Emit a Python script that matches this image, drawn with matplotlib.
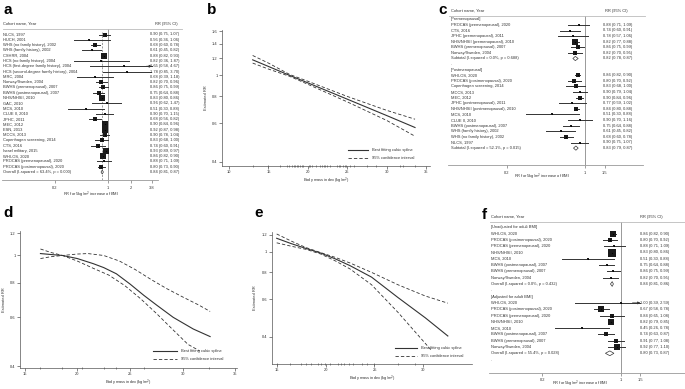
import numpy as np
import matplotlib.pyplot as plt
from matplotlib.patches import Polygon
from matplotlib.ticker import NullLocator

W, H = 685, 389
plt.rcParams['font.family'] = ['Liberation Sans', 'DejaVu Sans']

# ---------------- panel a: all cohorts ----------------
a_labels = ["NLCS, 1997", "HUCH, 2001", "WHS (no family history), 2002",
            "WHS (family history), 2002", "CSHRR, 2004", "HCS (no family history), 2004",
            "HCS (first-degree family history), 2004", "HCS (second-degree family history), 2004",
            "MRC, 2004", "Norway/Sweden, 2004", "BWHS (premenopausal), 2007",
            "BWHS (postmenopausal), 2007", "NHS/NHSII, 2010", "GAC, 2010", "MCS, 2010",
            "CLUE II, 2010", "JPHC, 2011", "MEC, 2012", "ESN, 2013", "MCCS, 2013",
            "Copenhagen screening, 2014", "CTS, 2016", "Israel military, 2015",
            "WHI-OS, 2020", "PROCAS (premenopausal), 2020", "PROCAS (postmenopausal), 2020",
            "Overall (I-squared = 63.4%, p = 0.000)"]
a_rr = [0.90, 0.56, 0.68, 0.61, 0.88, 0.82, 1.65, 1.78, 0.68, 0.82, 0.86, 0.75, 0.83, 0.96,
        0.51, 0.90, 0.68, 0.90, 0.92, 0.90, 0.83, 0.74, 0.93, 0.86, 0.88, 0.80, 0.84]
a_lo = [0.75, 0.36, 0.60, 0.45, 0.82, 0.36, 0.58, 0.85, 0.39, 0.70, 0.75, 0.64, 0.80, 0.62,
        0.30, 0.70, 0.56, 0.84, 0.87, 0.78, 0.68, 0.60, 0.89, 0.82, 0.71, 0.73, 0.81]
a_hi = [1.07, 1.06, 0.78, 0.82, 0.93, 1.87, 4.67, 3.70, 1.18, 0.96, 0.99, 0.88, 0.86, 1.47,
        0.88, 1.15, 0.82, 0.96, 0.98, 1.04, 1.00, 0.91, 0.97, 0.90, 1.09, 0.90, 0.87]
a_wt = [3.5, 0.8, 4.5, 2.3, 9.0, 0.3, 0.3, 0.4, 0.6, 3.5, 3.6, 3.5, 9.5, 0.7, 0.9, 1.5,
        3.3, 7.5, 8.5, 4.5, 4.5, 3.0, 9.5, 9.0, 2.2, 4.0, None]

# ---------------- panel c: by menopausal status ----------------
c_labels = ["[Premenopausal]", "PROCAS (premenopausal), 2020", "CTS, 2016",
            "JPHC (premenopausal), 2011", "NHS/NHSII (premenopausal), 2010",
            "BWHS (premenopausal), 2007", "Norway/Sweden, 2004",
            "Subtotal (I-squared = 0.0%, p = 0.688)", ".", "[Postmenopausal]",
            "WHI-OS, 2020", "PROCAS (postmenopausal), 2020", "Copenhagen screening, 2014",
            "MCCS, 2013", "MEC, 2012", "JPHC (postmenopausal), 2011",
            "NHS/NHSII (postmenopausal), 2010", "MCS, 2010", "CLUE II, 2010",
            "BWHS (postmenopausal), 2007", "WHS (family history), 2002",
            "WHS (no family history), 2002", "NLCS, 1997",
            "Subtotal (I-squared = 52.1%, p = 0.015)"]
c_rr = [None, 0.88, 0.74, 0.78, 0.82, 0.86, 0.82, 0.82, None, None,
        0.86, 0.80, 0.83, 0.90, 0.90, 0.77, 0.84, 0.51, 0.90, 0.75, 0.61, 0.68, 0.90, 0.83]
c_lo = [None, 0.71, 0.60, 0.57, 0.77, 0.75, 0.70, 0.78, None, None,
        0.82, 0.70, 0.68, 0.79, 0.84, 0.59, 0.80, 0.30, 0.70, 0.64, 0.45, 0.60, 0.75, 0.79]
c_hi = [None, 1.09, 0.91, 1.06, 0.88, 0.99, 0.95, 0.87, None, None,
        0.90, 0.92, 1.00, 1.04, 0.96, 1.02, 0.88, 0.88, 1.16, 0.88, 0.82, 0.78, 1.07, 0.87]
c_wt = [None, 2.2, 2.2, 0.8, 12.0, 3.0, 3.0, None, None, None,
        5.5, 3.0, 3.0, 2.2, 4.0, 0.8, 4.5, 0.4, 0.5, 2.2, 0.8, 3.0, 1.6, None]

# ---------------- panel f: unadjusted / adjusted for adult BMI ----------------
f_labels = ["[Unadjusted for adult BMI]", "WHI-OS, 2020", "PROCAS (postmenopausal), 2020",
            "PROCAS (premenopausal), 2020", "NHS/NHSII, 2010", "MCS, 2010",
            "BWHS (postmenopausal), 2007", "BWHS (premenopausal), 2007", "Norway/Sweden, 2004",
            "Overall (I-squared = 0.0%, p = 0.432)", ".", "[Adjusted for adult BMI]",
            "WHI-OS, 2020", "PROCAS (postmenopausal), 2020", "PROCAS (premenopausal), 2020",
            "NHS/NHSII, 2010", "MCS, 2010", "BWHS (postmenopausal), 2007",
            "BWHS (premenopausal), 2007", "Norway/Sweden, 2004",
            "Overall (I-squared = 55.4%, p = 0.028)", "."]
f_rr = [None, 0.86, 0.80, 0.88, 0.83, 0.51, 0.75, 0.86, 0.82, 0.84, None, None,
        1.00, 0.67, 0.84, 0.82, 0.45, 0.74, 0.91, 0.92, 0.80, None]
f_lo = [None, 0.82, 0.70, 0.71, 0.80, 0.30, 0.64, 0.75, 0.70, 0.81, None, None,
        0.39, 0.58, 0.65, 0.79, 0.26, 0.63, 0.77, 0.77, 0.73, None]
f_hi = [None, 0.90, 0.92, 1.09, 0.86, 0.88, 0.88, 0.99, 0.95, 0.86, None, None,
        2.59, 0.78, 1.08, 0.85, 0.78, 0.87, 1.08, 1.10, 0.87, None]
f_wt = [None, 11.0, 3.0, 1.5, 16.0, 0.4, 2.2, 1.5, 1.5, None, None, None,
        0.4, 7.0, 3.0, 10.0, 0.8, 5.5, 5.5, 7.0, None, None]

# ---------------- panel b: linear dose-response ----------------
b_bmi = [13.0, 15.0, 17.7, 20.0, 25.0, 30.0, 33.6]
b_fit = [1.18, 1.10, 1.00, 0.924, 0.777, 0.653, 0.575]
b_up = [1.236, 1.14, 1.01, 0.94, 0.80, 0.69, 0.628]
b_low = [1.14, 1.07, 0.99, 0.91, 0.755, 0.62, 0.524]
b_rug = [13.0, 15.0, 16.5, 17.3, 17.65, 17.95, 18.2, 18.4, 18.6, 18.8, 19.0, 19.2, 19.4,
         20.1, 20.3, 20.5, 21.0, 21.5, 21.8, 22.0, 22.2, 22.4, 22.8, 23.7, 23.9, 24.1,
         24.5, 24.7, 24.9, 25.4, 25.8, 27.5, 28.7, 31.7, 32.1, 33.6]

# ---------------- panel d: non-linear dose-response ----------------
d_bmi_fit = [16.5, 17.5, 18.6, 20.0, 21.5, 22.5, 23.7, 25.0, 26.3, 27.5, 29.1, 31.0, 32.6]
d_fit = [1.016, 1.008, 1.000, 0.975, 0.935, 0.905, 0.86, 0.79, 0.72, 0.665, 0.60, 0.545, 0.512]
d_bmi_up = [16.5, 17.5, 18.6, 20.0, 21.0, 22.5, 24.0, 25.5, 27.0, 28.5, 30.0, 31.5, 32.6]
d_up = [1.055, 1.025, 1.0, 1.012, 1.016, 1.0, 0.955, 0.89, 0.82, 0.76, 0.71, 0.665, 0.63]
d_bmi_low = [16.5, 17.5, 18.6, 20.0, 21.5, 23.0, 24.5, 26.0, 27.5, 29.0, 30.5, 31.6]
d_low = [0.975, 0.99, 1.0, 0.955, 0.90, 0.85, 0.78, 0.70, 0.62, 0.545, 0.48, 0.455]
d_rug = [16.5, 18.5, 20.4, 22.5, 23.7, 26.3, 32.5]

# ---------------- panel e: non-linear dose-response (adjusted) ----------------
e_bmi_fit = [15.0, 16.5, 18.0, 19.5, 21.0, 22.5, 24.7, 27.4, 30.2, 32.5]
e_fit = [1.155, 1.09, 1.035, 0.985, 0.925, 0.86, 0.76, 0.61, 0.49, 0.403]
e_bmi_up = [15.0, 16.5, 18.0, 19.5, 21.0, 22.5, 24.7, 27.4, 30.2, 32.5]
e_up = [1.21, 1.12, 1.045, 0.99, 0.94, 0.885, 0.80, 0.70, 0.62, 0.574]
e_bmi_low = [15.0, 16.5, 18.0, 19.5, 21.0, 22.5, 24.7, 27.4, 30.85]
e_low = [1.10, 1.06, 1.025, 0.975, 0.905, 0.83, 0.70, 0.52, 0.344]
e_rug = [15.0, 16.4, 17.5, 18.0, 18.5, 19.2, 19.5, 19.9, 20.5, 21.3, 21.6, 21.9, 22.4,
         22.8, 23.7, 24.2, 24.9, 27.4, 29.1]

fig = plt.figure(figsize=(W / 100, H / 100), dpi=100)
TXT = '#333333'
AX = '#555555'
FS = 2.9


def px_axes(x0, y0, x1, y1):
    return fig.add_axes([x0 / W, 1 - y1 / H, (x1 - x0) / W, (y1 - y0) / H])


def forest(box, row0, drow, labels, rr, lo, hi, wt, xlim, ticks, tick_lab, clip,
           lab_px, ci_px, head_px, line_right, xlab_y, overall_dash=False):
    x0, y0, x1, y1 = box
    ax = px_axes(x0, y0, x1, y1)
    ax.set_xscale('log')
    ax.set_xlim(*xlim)
    ax.set_ylim(y1, y0)
    tr = ax.get_yaxis_transform()
    fx = lambda px: (px - x0) / (x1 - x0)
    ys = row0 + drow * np.arange(len(labels))
    # header
    ax.text(fx(lab_px), y0 - 5, "Cohort name, Year", transform=tr, fontsize=FS,
            color=TXT, va='center', clip_on=False)
    ax.text(fx(head_px), y0 - 5, "RR (95% CI)", transform=tr, fontsize=FS,
            color=TXT, va='center', clip_on=False)
    ax.plot([fx(x0 + 1), fx(line_right)], [y0, y0], transform=tr, color='#bbbbbb',
            lw=0.6, clip_on=False)
    ax.plot([1, 1], [y0, y1], color='#999999', lw=0.7, zorder=1)
    for i, lab in enumerate(labels):
        y = ys[i]
        ax.text(fx(lab_px), y, lab, transform=tr, fontsize=FS, color=TXT,
                va='center', clip_on=False)
        if rr[i] is None:
            continue
        ax.text(fx(ci_px), y, f"{rr[i]:.2f} ({lo[i]:.2f}, {hi[i]:.2f})", transform=tr,
                fontsize=FS, color=TXT, va='center', clip_on=False)
        if wt[i] is None:
            h = drow * 0.38
            ax.add_patch(Polygon([(lo[i], y), (rr[i], y - h), (hi[i], y), (rr[i], y + h)],
                                 closed=True, fc='white', ec='#333333', lw=0.5, zorder=4))
            if overall_dash:
                ax.plot([rr[i], rr[i]], [ys[0] - drow * 0.5, y1], color='#777777',
                        lw=0.5, ls=(0, (3, 2)), zorder=1)
            continue
        top = min(hi[i], clip)
        ax.plot([lo[i], top], [y, y], color='#333333', lw=0.7, zorder=2)
        if hi[i] > clip:
            ax.annotate('', xy=(clip, y), xytext=(clip * 0.85, y),
                        arrowprops=dict(arrowstyle='-|>', lw=0.6, color='#333333',
                                        mutation_scale=3.5, shrinkA=0, shrinkB=0))
        side = max(1.9 * np.sqrt(wt[i]), 1.2) / 1.389
        ax.scatter([rr[i]], [y], marker='s', s=side ** 2, color='#1a1a1a', lw=0, zorder=3)
        ax.scatter([rr[i]], [y], marker='o', s=0.6, color='black', lw=0, zorder=3)
    for s in ['left', 'top', 'right']:
        ax.spines[s].set_visible(False)
    ax.spines['bottom'].set_color('#999999')
    ax.spines['bottom'].set_linewidth(0.6)
    ax.set_yticks([])
    ax.set_xticks(ticks)
    ax.set_xticklabels(tick_lab)
    ax.xaxis.set_minor_locator(NullLocator())
    ax.tick_params(axis='x', length=2, width=0.5, color='#777777', labelsize=FS,
                   labelcolor=TXT, pad=2)
    ax.text(0.5 * (fx(lab_px) + fx(ci_px + 30)), y1 + xlab_y, "RR for 5kg/m$^2$ increase of BMI",
            transform=tr, fontsize=FS, color=TXT, ha='center', va='center', clip_on=False)
    return ax


forest((2, 29, 158, 180), 34.5, 5.29, a_labels, a_rr, a_lo, a_hi, a_wt,
       (0.040, 4.57), [0.2, 1, 2, 3.8], ['0.2', '1', '2', '3.8'], 3.8,
       3, 150, 155, 182, 15, overall_dash=True)
forest((448, 16, 643, 165), 19.3, 5.6, c_labels, c_rr, c_lo, c_hi, c_wt,
       (0.0598, 3.3), [0.2, 1, 1.5], ['0.2', '1', '1.5'], 1.5,
       451, 603, 605, 645, 12)
forest((489, 222, 685, 372.7), 227.3, 6.3, f_labels, f_rr, f_lo, f_hi, f_wt,
       (0.0667, 3.75), [0.2, 1, 1.5], ['0.2', '1', '1.5'], 1.5,
       491, 640, 640, 685, 11)


def curve_panel(box, xlim, ylim, yticks, ylabs, bmis, fits, ups, lows, rug, leg_px):
    x0, y0, x1, y1 = box
    ax = px_axes(x0, y0, x1, y1)
    ax.set_yscale('log')
    ax.set_xlim(*xlim)
    ax.set_ylim(*ylim)
    ax.plot(bmis[0], fits, color='#333333', lw=0.8)
    ax.plot(bmis[1], ups, color='#333333', lw=0.6, ls=(0, (4, 2.5)))
    ax.plot(bmis[2], lows, color='#333333', lw=0.6, ls=(0, (4, 2.5)))
    ax.plot(rug, [ylim[0]] * len(rug), ls='none', marker='|', ms=1.8, mew=0.4,
            color='#333333', clip_on=False)
    for s in ['top', 'right']:
        ax.spines[s].set_visible(False)
    for s in ['left', 'bottom']:
        ax.spines[s].set_color(AX)
        ax.spines[s].set_linewidth(0.5)
    ax.set_xticks([t for t in [10, 15, 20, 25, 30, 35] if xlim[0] <= t <= xlim[1]])
    ax.set_yticks(yticks)
    ax.set_yticklabels(ylabs)
    ax.yaxis.set_minor_locator(NullLocator())
    ax.tick_params(length=2, width=0.5, color=AX, labelsize=FS, labelcolor=TXT, pad=1.2)
    ax.set_xlabel("Body mass index (kg/m$^2$)", fontsize=FS, color=TXT, labelpad=1.0)
    ax.set_ylabel("Estimated RR", fontsize=FS, color=TXT, labelpad=3)
    # legend
    lx0, lx1, ly = leg_px
    fxp = lambda px: (px - x0) / (x1 - x0)
    fyp = lambda py: (y1 - py) / (y1 - y0)
    ax.plot([fxp(lx0), fxp(lx1)], [fyp(ly), fyp(ly)], transform=ax.transAxes,
            color='#333333', lw=0.8, clip_on=False)
    ax.plot([fxp(lx0), fxp(lx1)], [fyp(ly + 8), fyp(ly + 8)], transform=ax.transAxes,
            color='#333333', lw=0.6, ls=(0, (4, 2.5)), clip_on=False)
    ax.text(fxp(lx1 + 4), fyp(ly), "Best fitting cubic spline", transform=ax.transAxes,
            fontsize=FS, color=TXT, va='center', clip_on=False)
    ax.text(fxp(lx1 + 4), fyp(ly + 8), "95% confidence interval", transform=ax.transAxes,
            fontsize=FS, color=TXT, va='center', clip_on=False)
    return ax


curve_panel((222, 30, 430, 166), (9.11, 35.5), (0.382, 1.62),
            [0.4, 0.6, 0.8, 1, 1.2, 1.4, 1.6], ['0.4', '0.6', '0.8', '1', '1.2', '1.4', '1.6'],
            (b_bmi, b_bmi, b_bmi), b_fit, b_up, b_low, b_rug, (348, 368, 150))
curve_panel((20, 231, 237, 368), (14.56, 35.15), (0.395, 1.224),
            [0.4, 0.6, 0.8, 1, 1.2], ['0.4', '0.6', '0.8', '1', '1.2'],
            (d_bmi_fit, d_bmi_up, d_bmi_low), d_fit, d_up, d_low, d_rug, (153, 177, 351))
curve_panel((271.7, 231.7, 472, 364), (14.49, 34.97), (0.298, 1.24),
            [0.4, 0.6, 0.8, 1, 1.2], ['0.4', '0.6', '0.8', '1', '1.2'],
            (e_bmi_fit, e_bmi_up, e_bmi_low), e_fit, e_up, e_low, e_rug, (395, 417, 348))

for lab, x, y in [('a', 3, 10), ('b', 207, 10), ('c', 438, 10), ('d', 3, 213),
                  ('e', 254, 213), ('f', 482, 215)]:
    fig.text(x / W, 1 - y / H, lab, fontsize=11, fontweight='bold', va='center', ha='left')

fig.savefig('out.png', dpi=100)
